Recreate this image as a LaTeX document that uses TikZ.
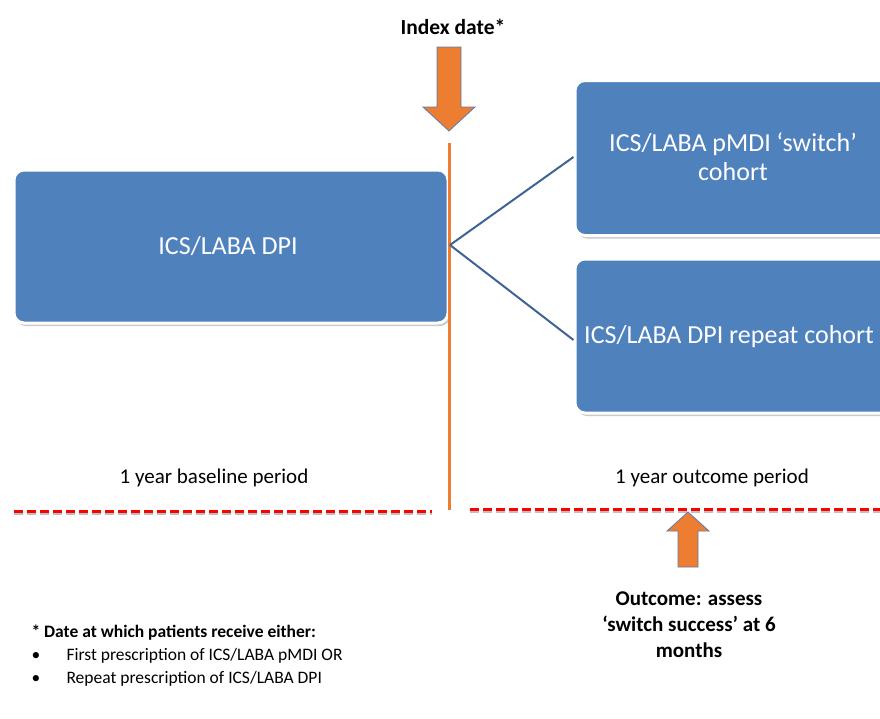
\documentclass[tikz,border=0pt]{standalone}
\usepackage{fontspec}
\setmainfont{Carlito}
\usetikzlibrary{shadows}
\definecolor{boxblue}{HTML}{4F81BD}
\definecolor{lineblue}{HTML}{3E6394}
\definecolor{arroworange}{HTML}{ED7D31}
\definecolor{arrowedge}{HTML}{5A7DB0}
\tikzset{
  cohortbox/.style={draw=white, line width=3pt, fill=boxblue, rounded corners=10pt,
    drop shadow={shadow xshift=2pt, shadow yshift=-3pt, opacity=0.35, fill=black!60},
    text=white, font=\fontsize{26}{31}\selectfont, align=center, inner sep=0pt},
  boxtext/.style={font=\fontsize{26}{29}\selectfont, text=white, align=center},
  bigarrow/.style={fill=arroworange, draw=arrowedge, line width=0.8pt, line join=miter},
  periodlabel/.style={font=\fontsize{21}{25}\selectfont, anchor=center},
  footfont/.style={font=\fontsize{17.5}{21}\selectfont, anchor=west},
  dashline/.style={draw=red, line width=3pt, dash pattern=on 9pt off 4pt},
  branch/.style={draw=lineblue, line width=2pt},
}
\begin{document}
\begin{tikzpicture}[x=1pt,y=-1pt]
\useasboundingbox (0,0) rectangle (880,718);
% title
\node[font=\bfseries\fontsize{21.5}{25}\selectfont] (idx) at (453,27) {Index date*};
% down arrow
\path[bigarrow] (437,47) -- (461,47) -- (461,107) -- (475,107) -- (449,131) -- (423,107) -- (437,107) -- cycle;
% boxes
\node[cohortbox, minimum width=434pt, minimum height=153pt] (dpi) at (231,246.5) {};
\node[boxtext] (dpitxt) at (228,246) {ICS/LABA DPI};
\node[cohortbox, minimum width=320pt, minimum height=155pt] (switch) at (735,158) {};
\node[boxtext] (switchtxt) at (733,157) {ICS/LABA pMDI ‘switch’\\cohort};
\node[cohortbox, minimum width=320pt, minimum height=154pt] (repeat) at (735,336) {};
\node[boxtext, anchor=west, inner sep=0pt] (repeattxt) at (584,337) {ICS/LABA DPI repeat cohort};
% vertical index line
\coordinate (vtop) at (449,143);
\coordinate (vbot) at (449,510);
\draw[arroworange, line width=3pt] (vtop) -- (vbot);
% branches
\coordinate (fork) at (450,245);
\draw[branch] (fork) -- (switch.west |- 0,157);
\draw[branch] (fork) -- (repeat.west |- 0,340);
% period labels
\node[periodlabel] (base) at (214,478) {1 year baseline period};
\node[periodlabel] (outc) at (712,478) {1 year outcome period};
% dashed lines
\coordinate (l1) at (14,511);
\coordinate (l2) at (432,511);
\coordinate (r1) at (470,509);
\coordinate (r2) at (880,509);
\draw[black!25, line width=3pt, dash pattern=on 9pt off 4pt] ([yshift=-2pt]l1) -- ([yshift=-2pt]l2);
\draw[black!25, line width=3pt, dash pattern=on 9pt off 4pt] ([yshift=-2pt]r1) -- ([yshift=-2pt]r2);
\draw[dashline] (l1) -- (l2);
\draw[dashline] (r1) -- (r2);
% up arrow
\path[bigarrow] (688,512) -- (709,531) -- (698,531) -- (698,567) -- (678,567) -- (678,531) -- (667,531) -- cycle;
% outcome text
\node[font=\bfseries\fontsize{21}{26}\selectfont, align=center] (outtxt) at (689,625) {Outcome: assess\\‘switch success’ at 6\\months};
% footnote
\node[footfont, font=\bfseries\fontsize{17.5}{21}\selectfont] (fn) at (28,633) {* Date at which patients receive either:};
\node[footfont] (b1) at (28,656) {•};
\node[footfont] (i1) at (63,656) {First prescription of ICS/LABA pMDI OR};
\node[footfont] (b2) at (28,679) {•};
\node[footfont] (i2) at (63,679) {Repeat prescription of ICS/LABA DPI};
\end{tikzpicture}
\end{document}
